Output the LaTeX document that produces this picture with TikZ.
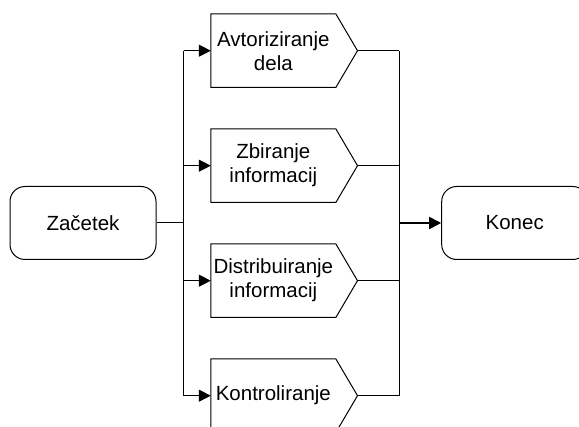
\documentclass[tikz,border=0pt]{standalone}
\usepackage{fontspec}
\setmainfont{Liberation Sans}
\usetikzlibrary{arrows.meta}
\begin{document}
\begin{tikzpicture}[x=1pt,y=-1pt,
  every node/.style={font=\fontsize{20.5}{24}\selectfont, align=center},
  term/.style={draw, rounded corners=15pt, minimum width=146pt, minimum height=73pt, line width=1pt, inner sep=0pt},
  procbox/.style={minimum width=124.7pt, minimum height=73pt, inner sep=0pt},
  conn/.style={line width=1pt},
  arr/.style={conn,-{Triangle[length=12pt,width=12pt]}}]
\useasboundingbox (0,0) rectangle (579,427);
\clip (0,0) rectangle (579,427);
\node[term] (start) at (83,223) {Začetek};
\node[term] (end) at (514.7,223) {Konec};
\node[procbox] (p1) at (273.35,50.7) {Avtoriziranje\\dela};
\node[procbox] (p2) at (273.35,165.7) {Zbiranje\\informacij};
\node[procbox] (p3) at (273.35,280.7) {Distribuiranje\\informacij};
\node[procbox] (p4) at (273.35,395.7) {Kontroliranje};
\coordinate (lb) at (183.5,223);
\coordinate (rb) at (399.3,223);
\foreach \p in {p1,p2,p3,p4}{
  \coordinate (\p tip) at ([xshift=21.6pt]\p.east);
  \draw[conn] (\p.north west) -- (\p.north east) -- (\p tip) -- (\p.south east) -- (\p.south west) -- cycle;
  \draw[arr] (lb |- \p.west) -- (\p.west);
  \draw[conn] (\p tip) -- (rb |- \p tip);
}
\draw[conn] (start.east) -- (lb);
\draw[conn] (lb |- p1.west) -- (lb |- p4.west);
\draw[conn] (rb |- p1tip) -- (rb |- p4tip);
\draw[conn, line width=1.8pt, -{Triangle[length=12pt,width=12pt]}] (rb) -- (end.west);
\end{tikzpicture}
\end{document}
